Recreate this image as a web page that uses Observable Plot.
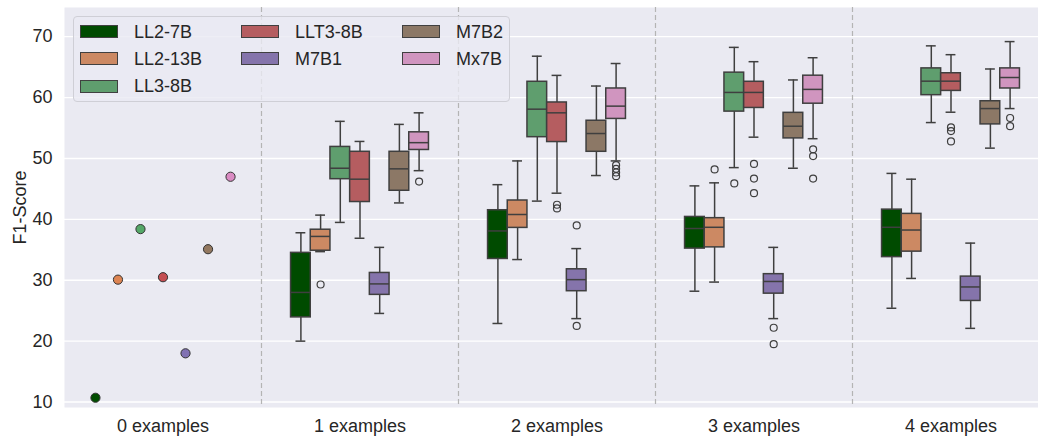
<!DOCTYPE html>
<html><head><meta charset="utf-8">
<script src="https://cdn.jsdelivr.net/npm/d3@7"></script>
<script src="https://cdn.jsdelivr.net/npm/@observablehq/plot@0.6"></script>
<style>
html,body{margin:0;padding:0;background:#fff;overflow:hidden;}
#wrap{position:relative;width:1038px;height:439px;overflow:hidden;font-family:"Liberation Sans",Arial,sans-serif;}
#legend{position:absolute;left:73px;top:16px;width:437px;height:86px;box-sizing:border-box;border:1px solid #cfcfd6;border-radius:4px;background:rgba(234,234,242,0.8);}
.item{position:absolute;display:flex;align-items:center;font-size:18px;color:#262626;height:20px;line-height:20px;}
.sw{width:38px;height:13px;box-sizing:border-box;border:1px solid #404040;margin-right:16px;}
</style></head>
<body><div id="wrap"></div>
<script>
const groups = ["0 examples","1 examples","2 examples","3 examples","4 examples"];
const models = ["LL2-7B","LL2-13B","LL3-8B","LLT3-8B","M7B1","M7B2","Mx7B"];
const boxColors = ["#004b00","#cc8963","#5f9e6e","#b55d60","#8574ab","#8c7866","#d095bf"];
const dotColors = ["#004d00","#dd8452","#55a868","#c44e52","#8172b3","#937860","#da8bc3"];
const yTicks = [10,20,30,40,50,60,70];

// 0 examples: a single score per model
const zeroShot = [10.7,30.1,38.4,30.5,18.0,35.1,47.0];

// rows: 1..4 examples; columns: models
const whiskerLow = [
  [20.0,34.7,39.5,36.9,24.55,42.7,48.0],
  [22.9,33.4,43.0,44.3,23.7,47.2,49.6],
  [28.2,29.7,48.5,53.5,23.7,48.4,53.25],
  [25.4,30.3,55.9,57.6,22.1,51.7,58.2]];
const q1 = [
  [23.9,34.85,46.6,42.85,27.6,44.7,51.4],
  [33.5,38.6,53.5,52.7,28.2,51.1,56.5],
  [35.2,35.4,57.7,58.3,27.8,53.3,59.0],
  [33.8,34.7,60.4,61.1,26.6,55.6,61.5]];
const median = [
  [28.0,37.2,48.4,46.6,29.4,48.3,52.6],
  [38.1,40.8,58.1,57.5,30.1,54.1,58.6],
  [38.5,38.7,60.85,60.85,29.8,55.3,61.35],
  [38.7,38.25,62.7,62.7,28.9,58.2,63.3]];
const q3 = [
  [34.5,38.3,51.9,51.1,31.2,51.1,54.3],
  [41.5,43.1,62.6,59.2,31.8,56.2,61.5],
  [40.4,40.2,64.1,62.6,31.0,57.5,63.6],
  [41.6,40.9,64.8,64.0,30.6,59.4,64.8]];
const whiskerHigh = [
  [37.8,40.7,56.1,52.8,35.4,55.6,57.5],
  [45.7,49.6,66.8,63.65,35.2,61.9,65.6],
  [45.5,46.0,68.25,65.9,35.4,62.9,66.55],
  [47.55,46.6,68.5,67.05,36.1,64.7,69.2]];
const outliers = [
  [[],[29.3],[],[],[],[],[46.2]],
  [[],[],[],[42.4,41.8],[39.0,22.5],[],[48.9,48.3,47.7,47.1]],
  [[],[48.2],[45.9],[49.1,46.7,44.3],[22.2,19.5],[],[51.5,50.4,46.7]],
  [[],[],[],[55.1,54.5,52.8],[],[],[56.65,55.3]]];

// build tables
const boxW = 0.1, dotStep = 0.8 / models.length;
const boxes = [], outs = [];
q1.forEach((row, g) => row.forEach((_, m) => {
  const x = (g + 1) + (m - 3) * boxW;
  boxes.push({x, mi: m, lo: whiskerLow[g][m], q1: q1[g][m], med: median[g][m], q3: q3[g][m], hi: whiskerHigh[g][m]});
  outliers[g][m].forEach(v => outs.push({x, y: v}));
}));
const zeros = zeroShot.map((v, m) => ({x: (m - 3) * dotStep, y: v, mi: m}));

const ink = "#3f3f3f";
const chart = Plot.plot({
  width: 1049, height: 439,
  marginLeft: 64, marginRight: 0, marginTop: 7, marginBottom: 32,
  style: {fontFamily: "Liberation Sans, Arial, sans-serif", fontSize: "18px", color: "#262626", background: "white", maxWidth: "none", overflow: "visible"},
  x: {domain: [-0.5, 4.5]},
  y: {domain: [9.1, 74.8]},
  marks: [
    Plot.frame({fill: "#eaeaf2", stroke: "none"}),
    Plot.gridY(yTicks, {stroke: "white", strokeOpacity: 1, strokeWidth: 1.3}),
    Plot.ruleX([0.5, 1.5, 2.5, 3.5], {stroke: "#b4b4b4", strokeWidth: 1.2, strokeDasharray: "5,3"}),
    Plot.ruleX(boxes, {x: "x", y1: "lo", y2: "q1", stroke: ink, strokeWidth: 1.5}),
    Plot.ruleX(boxes, {x: "x", y1: "q3", y2: "hi", stroke: ink, strokeWidth: 1.5}),
    Plot.ruleY(boxes, {y: "lo", x1: d => d.x - boxW / 4, x2: d => d.x + boxW / 4, stroke: ink, strokeWidth: 1.5}),
    Plot.ruleY(boxes, {y: "hi", x1: d => d.x - boxW / 4, x2: d => d.x + boxW / 4, stroke: ink, strokeWidth: 1.5}),
    Plot.rect(boxes, {x1: d => d.x - boxW / 2, x2: d => d.x + boxW / 2, y1: "q1", y2: "q3", fill: d => boxColors[d.mi], stroke: ink, strokeWidth: 1.5}),
    Plot.ruleY(boxes, {y: "med", x1: d => d.x - boxW / 2, x2: d => d.x + boxW / 2, stroke: ink, strokeWidth: 1.5}),
    Plot.dot(outs, {x: "x", y: "y", r: 3.5, stroke: ink, strokeWidth: 1.2, fill: "none"}),
    Plot.dot(zeros, {x: "x", y: "y", r: 4.6, fill: d => dotColors[d.mi], stroke: "#333", strokeWidth: 1}),
    Plot.axisX([0, 1, 2, 3, 4], {tickFormat: i => groups[i], tickSize: 0, tickPadding: 12, label: null}),
    Plot.axisY(yTicks, {tickSize: 0, tickPadding: 12, label: "F1-Score", labelAnchor: "center", labelArrow: "none", labelOffset: 51})
  ]
});
const wrap = document.getElementById("wrap");
wrap.appendChild(chart);

// legend (matplotlib-style, 3 columns: 3,2,2)
const legend = document.createElement("div");
legend.id = "legend";
models.forEach((name, i) => {
  const col = i < 3 ? 0 : i < 5 ? 1 : 2;
  const row = i < 3 ? i : i < 5 ? i - 3 : i - 5;
  const item = document.createElement("div");
  item.className = "item";
  item.style.left = (6 + 161 * col) + "px";
  item.style.top = (4.7 + 27.2 * row) + "px";
  const sw = document.createElement("div");
  sw.className = "sw";
  sw.style.background = boxColors[i];
  const t = document.createElement("span");
  t.textContent = name;
  item.appendChild(sw); item.appendChild(t);
  legend.appendChild(item);
});
wrap.appendChild(legend);
</script></body></html>
